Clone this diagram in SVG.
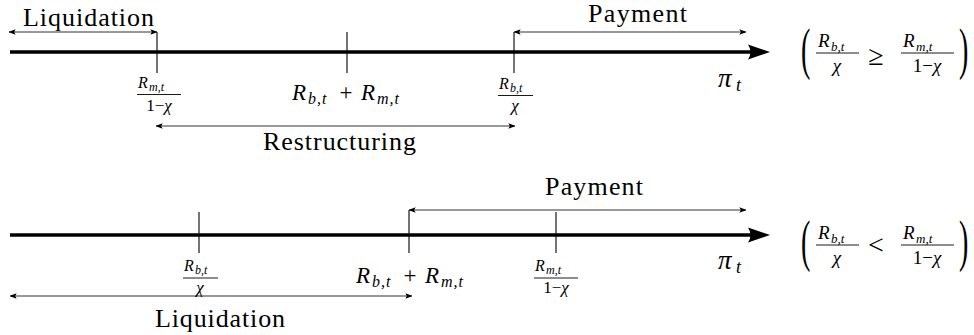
<svg xmlns="http://www.w3.org/2000/svg" width="974" height="335" viewBox="0 0 974 335">
<defs>
<marker id="ah" viewBox="0 0 10 10" refX="9.5" refY="5" markerWidth="7" markerHeight="7" markerUnits="userSpaceOnUse" orient="auto-start-reverse">
<path d="M0,1.2 L10,5 L0,8.8 L2.2,5 Z" fill="#000"/>
</marker>
</defs>

<!-- Top timeline -->
<g id="axis-top">
<line x1="10" y1="52" x2="752" y2="52" stroke="#000" stroke-width="3.5"/>
<path d="M770,52 L748,44.5 Q753,52 748,59.5 Z" fill="#000"/>
<text x="718" y="87" font-family="Liberation Serif" font-style="italic" font-size="27">π</text>
<text x="736" y="91" font-family="Liberation Serif" font-style="italic" font-size="18">t</text>
</g>

<g id="ticks-top" stroke="#000" stroke-width="1.1">
<line x1="157" y1="32" x2="157" y2="73"/>
<line x1="347" y1="32" x2="347" y2="73"/>
<line x1="514" y1="32" x2="514" y2="73"/>
</g>

<g id="connectors-top" stroke="#333" stroke-width="1.1" fill="none" marker-start="url(#ah)" marker-end="url(#ah)">
<line x1="9" y1="32" x2="157" y2="32"/>
<line x1="514" y1="32" x2="746" y2="32"/>
<line x1="156" y1="126" x2="515" y2="126"/>
</g>

<g id="labels-top" font-family="Liberation Serif" font-size="26">
<text x="23" y="26" textLength="131" lengthAdjust="spacing" font-family="Liberation Serif" font-size="26">Liquidation</text>
<text x="588" y="22" textLength="99" lengthAdjust="spacing" font-family="Liberation Serif" font-size="26">Payment</text>
<text x="263" y="150" textLength="153" lengthAdjust="spacing" font-family="Liberation Serif" font-size="26">Restructuring</text>
</g>

<g id="frac-top-left" font-family="Liberation Serif">
<text x="138" y="88" font-family="Liberation Serif" font-style="italic" font-size="16">R</text>
<text x="149" y="91" font-family="Liberation Serif" font-style="italic" font-size="12">m,t</text>
<line x1="137" y1="94.5" x2="181" y2="94.5" stroke="#000" stroke-width="0.9"/>
<text x="159" y="111" text-anchor="middle" font-family="Liberation Serif" font-size="17">1−<tspan font-style="italic">χ</tspan></text>
</g>

<g id="sum-top" font-family="Liberation Serif">
<text x="292" y="100" font-family="Liberation Serif" font-style="italic" font-size="23">R</text>
<text x="308" y="104" font-family="Liberation Serif" font-style="italic" font-size="16" letter-spacing="1">b,t</text>
<text x="346" y="100" text-anchor="middle" font-family="Liberation Serif" font-size="23">+</text>
<text x="361" y="100" font-family="Liberation Serif" font-style="italic" font-size="23">R</text>
<text x="377" y="104" font-family="Liberation Serif" font-style="italic" font-size="16" letter-spacing="1">m,t</text>
</g>

<g id="frac-top-right" font-family="Liberation Serif">
<text x="499" y="89" font-family="Liberation Serif" font-style="italic" font-size="16">R</text>
<text x="510" y="92" font-family="Liberation Serif" font-style="italic" font-size="12">b,t</text>
<line x1="498" y1="95.5" x2="533" y2="95.5" stroke="#000" stroke-width="0.9"/>
<text x="515" y="111" text-anchor="middle" font-family="Liberation Serif" font-style="italic" font-size="17">χ</text>
</g>

<g id="cond-top" font-family="Liberation Serif">
<text x="0" y="0" transform="translate(801,68) scale(0.5,1)" font-family="Liberation Serif" font-size="56">(</text>
<text x="818" y="47" font-family="Liberation Serif" font-style="italic" font-size="19">R</text>
<text x="831" y="51" font-family="Liberation Serif" font-style="italic" font-size="13">b,t</text>
<line x1="816" y1="53" x2="859" y2="53" stroke="#000" stroke-width="0.9"/>
<text x="837" y="72" text-anchor="middle" font-family="Liberation Serif" font-style="italic" font-size="19">χ</text>
<text x="876" y="65" text-anchor="middle" font-family="Liberation Serif" font-size="28">≥</text>
<text x="903" y="47" font-family="Liberation Serif" font-style="italic" font-size="19">R</text>
<text x="916" y="51" font-family="Liberation Serif" font-style="italic" font-size="13">m,t</text>
<line x1="901" y1="53" x2="954" y2="53" stroke="#000" stroke-width="0.9"/>
<text x="927" y="72" text-anchor="middle" font-family="Liberation Serif" font-size="19">1−<tspan font-style="italic">χ</tspan></text>
<text x="0" y="0" transform="translate(959,68) scale(0.5,1)" font-family="Liberation Serif" font-size="56">)</text>
</g>

<!-- Bottom timeline -->
<g id="axis-bottom">
<line x1="10" y1="235" x2="752" y2="235" stroke="#000" stroke-width="3.5"/>
<path d="M770,235 L748,227.5 Q753,235 748,242.5 Z" fill="#000"/>
<text x="718" y="269" font-family="Liberation Serif" font-style="italic" font-size="27">π</text>
<text x="736" y="273" font-family="Liberation Serif" font-style="italic" font-size="18">t</text>
</g>

<g id="ticks-bottom" stroke="#000" stroke-width="1.1">
<line x1="199" y1="212" x2="199" y2="253"/>
<line x1="409" y1="210" x2="409" y2="253"/>
<line x1="556" y1="212" x2="556" y2="253"/>
</g>

<g id="connectors-bottom" stroke="#333" stroke-width="1.1" fill="none" marker-start="url(#ah)" marker-end="url(#ah)">
<line x1="409" y1="210" x2="746" y2="210"/>
<line x1="10" y1="296" x2="412" y2="296"/>
</g>

<g id="labels-bottom" font-family="Liberation Serif" font-size="26">
<text x="545" y="195" textLength="98" lengthAdjust="spacing" font-family="Liberation Serif" font-size="26">Payment</text>
<text x="155" y="327" textLength="130" lengthAdjust="spacing" font-family="Liberation Serif" font-size="26">Liquidation</text>
</g>

<g id="frac-bottom-left" font-family="Liberation Serif">
<text x="184" y="271" font-family="Liberation Serif" font-style="italic" font-size="16">R</text>
<text x="195" y="274" font-family="Liberation Serif" font-style="italic" font-size="12">b,t</text>
<line x1="183" y1="278" x2="218" y2="278" stroke="#000" stroke-width="0.9"/>
<text x="200" y="293" text-anchor="middle" font-family="Liberation Serif" font-style="italic" font-size="17">χ</text>
</g>

<g id="sum-bottom" font-family="Liberation Serif">
<text x="356" y="283" font-family="Liberation Serif" font-style="italic" font-size="23">R</text>
<text x="372" y="287" font-family="Liberation Serif" font-style="italic" font-size="16" letter-spacing="1">b,t</text>
<text x="410" y="283" text-anchor="middle" font-family="Liberation Serif" font-size="23">+</text>
<text x="425" y="283" font-family="Liberation Serif" font-style="italic" font-size="23">R</text>
<text x="441" y="287" font-family="Liberation Serif" font-style="italic" font-size="16" letter-spacing="1">m,t</text>
</g>

<g id="frac-bottom-right" font-family="Liberation Serif">
<text x="535" y="271" font-family="Liberation Serif" font-style="italic" font-size="16">R</text>
<text x="546" y="274" font-family="Liberation Serif" font-style="italic" font-size="12">m,t</text>
<line x1="534" y1="278" x2="578" y2="278" stroke="#000" stroke-width="0.9"/>
<text x="556" y="293" text-anchor="middle" font-family="Liberation Serif" font-size="17">1−<tspan font-style="italic">χ</tspan></text>
</g>

<g id="cond-bottom" font-family="Liberation Serif">
<text x="0" y="0" transform="translate(801,260) scale(0.5,1)" font-family="Liberation Serif" font-size="56">(</text>
<text x="818" y="239" font-family="Liberation Serif" font-style="italic" font-size="19">R</text>
<text x="831" y="243" font-family="Liberation Serif" font-style="italic" font-size="13">b,t</text>
<line x1="816" y1="245" x2="859" y2="245" stroke="#000" stroke-width="0.9"/>
<text x="837" y="264" text-anchor="middle" font-family="Liberation Serif" font-style="italic" font-size="19">χ</text>
<text x="876" y="254" text-anchor="middle" font-family="Liberation Serif" font-size="28">&lt;</text>
<text x="903" y="239" font-family="Liberation Serif" font-style="italic" font-size="19">R</text>
<text x="916" y="243" font-family="Liberation Serif" font-style="italic" font-size="13">m,t</text>
<line x1="901" y1="245" x2="954" y2="245" stroke="#000" stroke-width="0.9"/>
<text x="927" y="264" text-anchor="middle" font-family="Liberation Serif" font-size="19">1−<tspan font-style="italic">χ</tspan></text>
<text x="0" y="0" transform="translate(959,260) scale(0.5,1)" font-family="Liberation Serif" font-size="56">)</text>
</g>
</svg>
